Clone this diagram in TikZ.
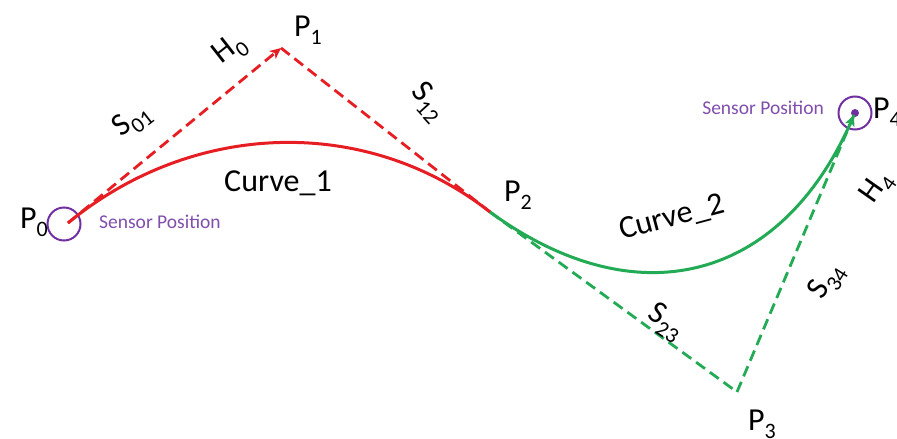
\documentclass[tikz,border=0pt]{standalone}
\usepackage{fontspec}
\setmainfont{Carlito}
\usetikzlibrary{arrows.meta,calc}
\definecolor{cred}{RGB}{230,30,35}
\definecolor{cgreen}{RGB}{35,170,85}
\definecolor{cpurple}{RGB}{112,48,160}
\definecolor{tpurple}{RGB}{128,78,172}
\newcommand\lbsub[1]{\raisebox{-0.26em}{\fontsize{22}{22}\selectfont #1}}
\begin{document}
\begin{tikzpicture}[x=1pt,y=-1pt,
  lbl/.style={font=\fontsize{32}{32}\selectfont, inner sep=0pt},
  sens/.style={font=\fontsize{19.5}{19.5}\selectfont, text=tpurple, inner sep=0pt},
  dsh/.style={dash pattern=on 11pt off 6pt, line width=2.8pt},
  crv/.style={line width=3pt},
  ring/.style={circle, draw=cpurple, line width=2pt, minimum size=33pt, inner sep=0pt},
  tip/.style={-{Stealth[length=11pt,width=10pt,inset=3pt]}}]
\useasboundingbox (0,0) rectangle (897,439);
\coordinate (P0) at (68,223);
\coordinate (P1) at (281,48);
\coordinate (P2) at (490,212);
\coordinate (P3) at (737,392);
\coordinate (P4) at (854,115);
% sensor rings
\node[ring] (r0) at (64,224) {};
\node[ring] (r4) at (855,113) {};
\fill[cpurple] (r4.center) circle (4pt);
% curves
\draw[cred,crv] (P0) .. controls ($(P0)!0.59!(P1)$) and ($(P2)!0.59!(P1)$) .. (P2);
\draw[cgreen,crv] (P2) .. controls ($(P2)!0.6!(P3)$) and ($(P4)!0.6!(P3)$) .. (P4);
% control polygons
\draw[cred,dsh,tip] (P0) -- (P1);
\draw[cred,dsh] (P1) -- (P2);
\draw[cgreen,dsh] (P2) -- (P3);
\draw[cgreen,dsh,tip] (P3) -- (P4);
% point labels
\node[lbl] (l0) at (34,222) {P\lbsub{0}};
\node[lbl] (l1) at (308,30) {P\lbsub{1}};
\node[lbl] (l2) at (518,195) {P\lbsub{2}};
\node[lbl] (l3) at (762,424) {P\lbsub{3}};
\node[lbl,anchor=west] (l4) at (873,112) {P\lbsub{4}};
% segment labels
\node[lbl,rotate=38] (s01) at (132,121) {S\lbsub{01}};
\node[lbl,rotate=38] (h0) at (230,50) {H\lbsub{0}};
\node[lbl,rotate=-48] (s12) at (428,102) {S\lbsub{12}};
\node[lbl,rotate=-32] (s23) at (665,322) {S\lbsub{23}};
\node[lbl,rotate=58] (s34) at (827,282) {S\lbsub{34}};
\node[lbl,rotate=55] (h4) at (877,188) {H\lbsub{4}};
\node[lbl] (c1) at (278,183) {Curve\_1};
\node[lbl,rotate=15] (c2) at (672,218) {Curve\_2};
% sensor texts
\node[sens,anchor=west] (t0) at (99,222) {Sensor Position};
\node[sens,anchor=east] (t4) at (824,108) {Sensor Position};
\end{tikzpicture}
\end{document}
